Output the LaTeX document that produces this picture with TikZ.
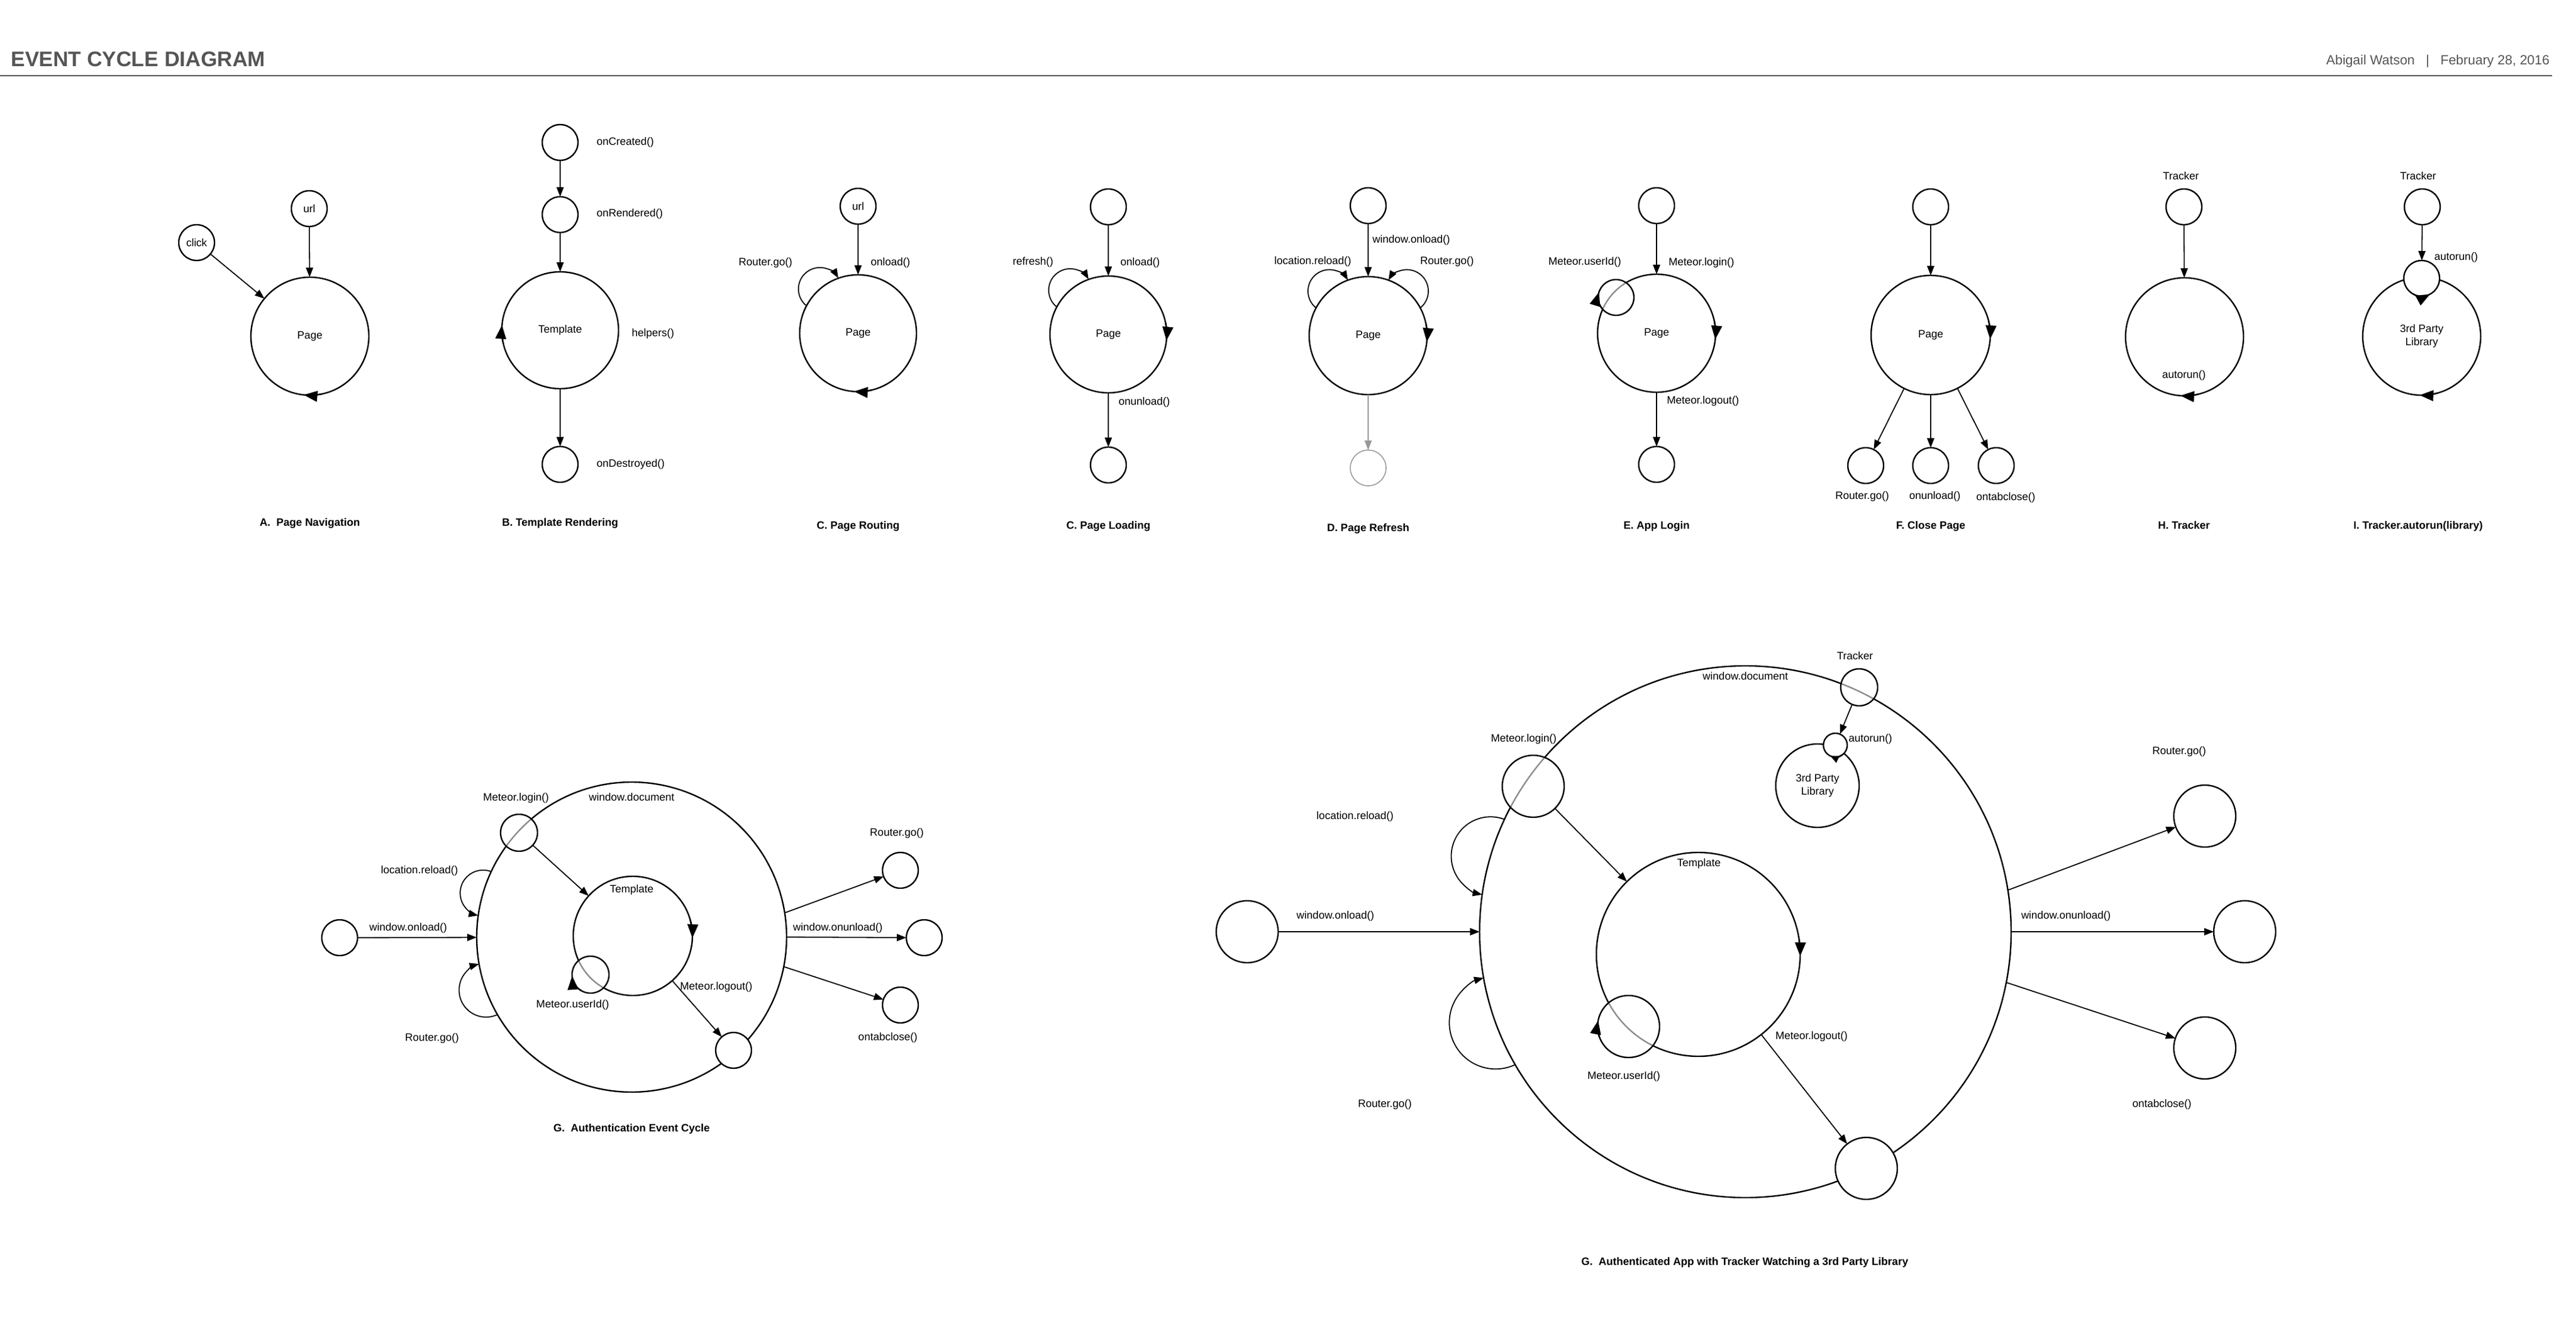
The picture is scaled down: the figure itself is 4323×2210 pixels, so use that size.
\documentclass[tikz,border=0pt]{standalone}
\usepackage{fontspec}
\setmainfont{Liberation Sans}
\usetikzlibrary{arrows.meta}
\definecolor{ink}{HTML}{555555}
\definecolor{faded}{HTML}{999999}
\newcommand\evfont{\fontsize{9}{11}\selectfont}
\tikzset{
  vtx/.style={circle,draw,fill=white,line width=1.2pt,inner sep=0pt,outer sep=0pt,minimum size=30pt,font=\evfont},
  see/.style={fill opacity=0.55},
  lbl/.style={inner sep=0pt,anchor=mid,font=\evfont},
  panelcap/.style={inner sep=0pt,anchor=mid,font=\evfont\bfseries},
  arr/.style={-{Triangle[length=8pt,width=6pt]},line width=0.9pt},
  cyc/.style={-{Triangle[length=11.5pt,width=9pt]},line width=1.2pt}
}
\begin{document}
\begin{tikzpicture}[x=0.5pt,y=0.5pt]
\useasboundingbox (0,0) rectangle (4323,-2210);
\node[anchor=base west,inner sep=0pt,text=ink,font=\fontsize{17.7}{20}\selectfont\bfseries] (title) at (18,-112) {EVENT CYCLE DIAGRAM};
\node[anchor=base east,inner sep=0pt,text=ink,font=\fontsize{11.2}{13}\selectfont] (byline) at (4279,-109) {Abigail Watson~~~|~~~February 28, 2016};
\coordinate (ruleL) at (0,-127);
\coordinate (ruleR) at (4283,-127);
\draw[ink,line width=1pt] (ruleL) -- (ruleR);

\node[vtx] (aClick) at (330,-407) {click};
\node[vtx] (aUrl) at (519,-350) {url};
\node[vtx,minimum size=99pt] (aPage) at (520,-564) {Page};
\draw[arr] (aClick) -- (aPage);
\draw[arr] (aUrl) -- (aPage);
\draw[cyc] (aPage.-78) arc[start angle=-78,end angle=-96,radius=99];
\node[panelcap] (aCap) at (520,-877) {A.\ \ Page Navigation};

\node[vtx] (bCreated) at (940,-239) {};
\node[vtx] (bRendered) at (940,-360) {};
\node[vtx,minimum size=98pt] (bTpl) at (940,-554) {Template};
\node[vtx] (bDestroyed) at (940,-779) {};
\draw[arr] (bCreated) -- (bRendered);
\draw[arr] (bRendered) -- (bTpl);
\draw[arr] (bTpl) -- (bDestroyed);
\draw[cyc] (bTpl.193) arc[start angle=193,end angle=175,radius=98];
\node[lbl,anchor=mid west] (bL1) at (1001,-238) {onCreated()};
\node[lbl,anchor=mid west] (bL2) at (1001,-358) {onRendered()};
\node[lbl,anchor=mid west] (bL3) at (1060,-559) {helpers()};
\node[lbl,anchor=mid west] (bL4) at (1001,-778) {onDestroyed()};
\node[panelcap] (bCap) at (940,-877) {B. Template Rendering};

\node[vtx] (cUrl) at (1440,-346) {url};
\node[vtx,minimum size=98pt] (cPage) at (1440,-559) {Page};
\draw[arr] (cUrl) -- (cPage);
\draw[arr] (cPage.152) arc[start angle=231.5,end angle=30.5,radius=36];
\draw[cyc] (cPage.-76) arc[start angle=-76,end angle=-94,radius=98];
\node[lbl,anchor=mid east] (cL1) at (1330,-440) {Router.go()};
\node[lbl,anchor=mid west] (cL2) at (1461,-440) {onload()};
\node[panelcap] (cCap) at (1440,-882) {C. Page Routing};

\node[vtx] (lTop) at (1860,-347) {};
\node[vtx,minimum size=98pt] (lPage) at (1860,-561) {Page};
\node[vtx] (lEnd) at (1860,-780) {};
\draw[arr] (lTop) -- (lPage);
\draw[arr] (lPage) -- (lEnd);
\draw[arr] (lPage.152) arc[start angle=231.5,end angle=30.5,radius=36];
\draw[cyc] (lPage.12) arc[start angle=12,end angle=-6,radius=98];
\node[lbl,anchor=mid east] (lL1) at (1768,-439) {refresh()};
\node[lbl,anchor=mid west] (lL2) at (1880,-440) {onload()};
\node[lbl,anchor=mid west] (lL3) at (1877,-674) {onunload()};
\node[panelcap] (lCap) at (1860,-882) {C. Page Loading};

\node[vtx] (dTop) at (2296,-345) {};
\node[vtx,minimum size=99pt] (dPage) at (2296,-563) {Page};
\node[vtx,draw=faded,line width=0.8pt] (dEnd) at (2296,-785) {};
\draw[arr] (dTop) -- (dPage);
\draw[arr,faded,line width=0.6pt] (dPage) -- (dEnd);
\draw[arr] (dPage.152) arc[start angle=231.5,end angle=30.5,radius=36];
\draw[arr] (dPage.28) arc[start angle=-51.5,end angle=149.5,radius=36];
\draw[cyc] (dPage.12) arc[start angle=12,end angle=-6,radius=99];
\node[lbl,anchor=mid west] (dL1) at (2303,-402) {window.onload()};
\node[lbl,anchor=mid east] (dL2) at (2268,-438) {location.reload()};
\node[lbl,anchor=mid west] (dL3) at (2383,-438) {Router.go()};
\node[panelcap] (dCap) at (2296,-886) {D. Page Refresh};

\node[vtx] (eTop) at (2780,-345) {};
\node[vtx,minimum size=99pt] (ePage) at (2780,-559) {Page};
\node[vtx] (eEnd) at (2780,-779) {};
\node[vtx,see] (eUser) at (2712,-499) {};
\draw[arr] (eTop) -- (ePage);
\draw[arr] (ePage) -- (eEnd);
\draw[cyc] (ePage.12) arc[start angle=12,end angle=-6,radius=99];
\draw[cyc] (eUser.220) arc[start angle=220,end angle=163,radius=30];
\node[lbl,anchor=mid east] (eL1) at (2721,-439) {Meteor.userId()};
\node[lbl,anchor=mid west] (eL2) at (2800,-440) {Meteor.login()};
\node[lbl,anchor=mid west] (eL3) at (2797,-672) {Meteor.logout()};
\node[panelcap] (eCap) at (2780,-882) {E. App Login};

\node[vtx] (fTop) at (3240,-347) {};
\node[vtx,minimum size=100pt] (fPage) at (3240,-562) {Page};
\node[vtx] (fGo) at (3131,-781) {};
\node[vtx] (fUnload) at (3240,-781) {};
\node[vtx] (fClose) at (3350,-781) {};
\draw[arr] (fTop) -- (fPage);
\draw[arr] (fPage) -- (fGo);
\draw[arr] (fPage) -- (fUnload);
\draw[arr] (fPage) -- (fClose);
\draw[cyc] (fPage.14) arc[start angle=14,end angle=-4,radius=100];
\node[lbl] (fL1) at (3125,-832) {Router.go()};
\node[lbl] (fL2) at (3247,-832) {onunload()};
\node[lbl] (fL3) at (3366,-834) {ontabclose()};
\node[panelcap] (fCap) at (3240,-882) {F. Close Page};

\node[lbl] (hTracker) at (3660,-296) {Tracker};
\node[vtx] (hTop) at (3665,-347) {};
\node[vtx,minimum size=99pt] (hLoop) at (3666,-565) {};
\draw[arr] (hTop) -- (hLoop);
\draw[cyc] (hLoop.-76) arc[start angle=-76,end angle=-94,radius=99];
\node[lbl] (hAuto) at (3665,-629) {autorun()};
\node[panelcap] (hCap) at (3665,-882) {H. Tracker};

\node[lbl] (iTracker) at (4058,-296) {Tracker};
\node[vtx] (iTop) at (4065,-347) {};
\node[vtx,minimum size=99pt,align=center] (iLib) at (4064,-564) {3rd Party\\Library};
\node[vtx] (iAuto) at (4064,-467) {};
\draw[arr] (iTop) -- (iAuto);
\draw[cyc] (iLib.-74) arc[start angle=-74,end angle=-92,radius=99];
\draw[cyc] (iAuto.-118) arc[start angle=-118,end angle=-62,radius=30];
\node[lbl,anchor=mid west] (iL1) at (4085,-431) {autorun()};
\node[panelcap] (iCap) at (4058,-882) {I. Tracker.autorun(library)};

\node[vtx,minimum size=260pt] (gDoc) at (1060,-1572) {};
\node[vtx,minimum size=100pt] (gTpl) at (1062,-1570) {};
\node[vtx] (gIn) at (570,-1573) {};
\node[vtx,minimum size=31pt,see] (gLogin) at (871,-1397) {};
\node[vtx,minimum size=31pt,see] (gUser) at (991,-1635) {};
\node[vtx] (gLogout) at (1231,-1762) {};
\node[vtx] (gGo) at (1511,-1460) {};
\node[vtx] (gUnload) at (1551,-1573) {};
\node[vtx] (gClose) at (1511,-1686) {};
\draw[arr] (gIn) -- (gDoc);
\draw[arr] (gLogin) -- (gTpl);
\draw[arr] (gTpl) -- (gLogout);
\draw[arr] (gDoc.9) -- (gGo);
\draw[arr] (gDoc.0) -- (gUnload);
\draw[arr] (gDoc.-11) -- (gClose);
\draw[arr] (gDoc.155) arc[start angle=69.25,end angle=257.75,radius=38.5];
\draw[arr] (gDoc.210) arc[start angle=295,end angle=105,radius=45.3];
\draw[cyc] (gTpl.16) arc[start angle=16,end angle=-2,radius=100];
\draw[cyc] (gUser.240) arc[start angle=240,end angle=184,radius=31];
\node[lbl] (gL1) at (1060,-1338) {window.document};
\node[lbl] (gL2) at (1060,-1492) {Template};
\node[lbl] (gL3) at (866,-1338) {Meteor.login()};
\node[lbl] (gL4) at (704,-1460) {location.reload()};
\node[lbl] (gL5) at (685,-1556) {window.onload()};
\node[lbl] (gL6) at (725,-1741) {Router.go()};
\node[lbl] (gL7) at (961,-1685) {Meteor.userId()};
\node[lbl] (gL8) at (1202,-1655) {Meteor.logout()};
\node[lbl] (gL9) at (1406,-1556) {window.onunload()};
\node[lbl] (gL10) at (1505,-1397) {Router.go()};
\node[lbl] (gL11) at (1490,-1740) {ontabclose()};
\node[panelcap] (gCap) at (1060,-1893) {G.\ \ Authentication Event Cycle};

\node[vtx,minimum size=446pt] (wDoc) at (2929,-1563) {};
\node[vtx,minimum size=171pt] (wTpl) at (2850,-1601) {};
\node[vtx,minimum size=70pt,align=center] (wLib) at (3050,-1318) {3rd Party\\Library};
\node[vtx,minimum size=20pt] (wAuto) at (3080,-1250) {};
\node[vtx,minimum size=31pt,see] (wTracker) at (3120,-1153) {};
\node[vtx,minimum size=52pt] (wIn) at (2093,-1563) {};
\node[vtx,minimum size=52pt,see] (wLogin) at (2573,-1319) {};
\node[vtx,minimum size=52pt,see] (wUser) at (2733,-1722) {};
\node[vtx,minimum size=52pt] (wLogout) at (3132,-1960) {};
\node[vtx,minimum size=52pt] (wGo) at (3700,-1369) {};
\node[vtx,minimum size=52pt] (wUnload) at (3767,-1563) {};
\node[vtx,minimum size=52pt] (wClose) at (3700,-1758) {};
\draw[arr] (wIn) -- (wDoc);
\draw[arr] (wLogin) -- (wTpl);
\draw[arr] (wTpl) -- (wLogout);
\draw[arr] (wTracker) -- (wAuto);
\draw[arr] (wDoc.9) -- (wGo);
\draw[arr] (wDoc.0) -- (wUnload);
\draw[arr] (wDoc.-11) -- (wClose);
\draw[arr] (wDoc.155) arc[start angle=69.25,end angle=257.75,radius=66];
\draw[arr] (wDoc.210) arc[start angle=295,end angle=105,radius=77.7];
\draw[cyc] (wTpl.9) arc[start angle=9,end angle=-1,radius=171];
\draw[cyc] (wUser.200) arc[start angle=200,end angle=169,radius=52];
\draw[cyc,-{Triangle[length=7pt,width=6pt]}] (wAuto.-50) arc[start angle=-50,end angle=-115,radius=20];
\node[lbl] (wL1) at (2929,-1135) {window.document};
\node[lbl] (wL2) at (2851,-1448) {Template};
\node[lbl] (wL3) at (3113,-1101) {Tracker};
\node[lbl,anchor=mid west] (wL4) at (3102,-1239) {autorun()};
\node[lbl] (wL5) at (2241,-1536) {window.onload()};
\node[lbl] (wL6) at (2274,-1369) {location.reload()};
\node[lbl] (wL7) at (2324,-1852) {Router.go()};
\node[lbl] (wL8) at (2557,-1239) {Meteor.login()};
\node[lbl] (wL9) at (2725,-1805) {Meteor.userId()};
\node[lbl] (wL10) at (3040,-1738) {Meteor.logout()};
\node[lbl] (wL11) at (3467,-1536) {window.onunload()};
\node[lbl] (wL12) at (3657,-1260) {Router.go()};
\node[lbl] (wL13) at (3628,-1852) {ontabclose()};
\node[panelcap] (wCap) at (2928,-2117) {G.\ \ Authenticated App with Tracker Watching a 3rd Party Library};
\end{tikzpicture}
\end{document}
